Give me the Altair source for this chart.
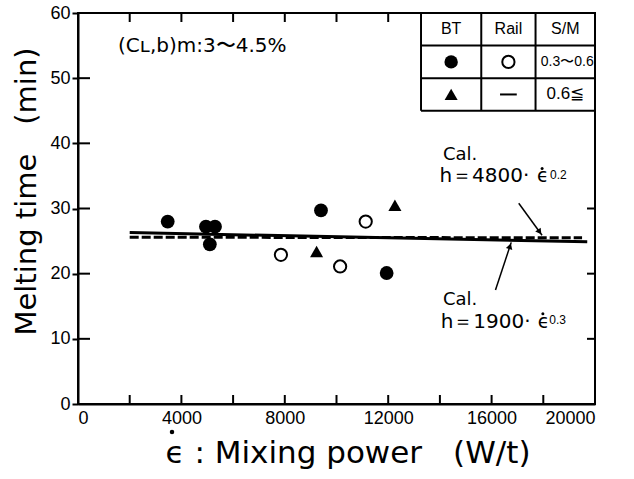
import math
import altair as alt
import pandas as pd

# ---------------- data ----------------
bt_circle_x = [3470, 4950, 5300, 5100, 9400, 11940]
bt_circle_y = [28.0, 27.2, 27.2, 24.5, 29.7, 20.1]
rail_circle_x = [7850, 10140, 11130]
rail_circle_y = [22.9, 21.1, 28.0]
bt_tri_x = [9230, 12260]
bt_tri_y = [23.4, 30.5]

solid_x = [2000, 19700]
solid_y = [26.3, 24.9]
dash_x = [2000, 19500]
dash_y = [25.6, 25.5]

x_label_vals = [0, 4000, 8000, 12000, 16000, 20000]
y_label_vals = [0, 10, 20, 30, 40, 50, 60]
x_minor = [2000, 4000, 6000, 8000, 10000, 12000, 14000, 16000, 18000]
x_top_minor = [2000, 4000, 6000, 8000, 10000, 12000]
y_left_minor = [10, 20, 30, 40, 50]
y_right_minor = [10, 20, 30]

# legend table grid (data units)
tbl_cols = [13270, 15600, 17700, 20000]
tbl_rows = [45, 50, 55, 60]
tbl_head = ["BT", "Rail", "S/M"]
tbl_sm = ["0.3〜0.6", "0.6≦"]

# annotation texts
cond_text = "(Cʟ,b)m:3〜4.5%"
cal_x = [14120, 14120]
cal_y = [38.2, 15.9]
eq_text = ["h＝4800·", "h＝1900·"]
eq_x = [13980, 14030]
eq_y = [34.0, 11.7]
eps_x = [17760, 17790]
sup_text = ["0.2", "0.3"]
sup_x = [18260, 18230]
sup_y = [35.2, 12.9]

arr_x1 = [17050, 16150]
arr_y1 = [30.8, 17.5]
arr_x2 = [17950, 16760]
arr_y2 = [25.9, 24.8]

W, H = 517, 391
XMAX, YMAX = 20000, 60
XPX, YPX = W / XMAX, H / YMAX

xs = alt.Scale(domain=[0, XMAX], nice=False, zero=False)
ys = alt.Scale(domain=[0, YMAX], nice=False, zero=False)
FONT = "Liberation Sans"
TFONT = "DejaVu Sans"

x_axis = alt.Axis(values=x_label_vals, ticks=False, grid=False, labelFont=FONT,
                  labelFontSize=18, labelColor="black", labelPadding=5, format="d",
                  domainColor="black", domainWidth=2,
                  title="ϵ : Mixing power\u2003(W/t)", titleFont=TFONT, titleFontSize=31,
                  titleFontWeight="normal", titleColor="black", titleAlign="left",
                  titleAnchor="start", titleX=87, titleY=58, titleBaseline="alphabetic")
y_axis = alt.Axis(values=y_label_vals, ticks=True, tickSize=6, tickWidth=2, tickColor="black",
                  grid=False, labelFont=FONT, labelFontSize=18, labelColor="black",
                  labelPadding=2, domainColor="black", domainWidth=2,
                  title="Melting time\u2003(min)", titleFont=TFONT, titleFontSize=29,
                  titleFontWeight="normal", titleColor="black", titlePadding=8,
                  titleY=178)


def X(f="x"):
    return alt.X(f"{f}:Q", scale=xs, axis=x_axis)


def Y(f="y"):
    return alt.Y(f"{f}:Q", scale=ys, axis=y_axis)


filled = alt.Chart(pd.DataFrame({"x": bt_circle_x, "y": bt_circle_y})).mark_point(
    shape="circle", filled=True, color="black", size=190, opacity=1).encode(x=X(), y=Y())
opens = alt.Chart(pd.DataFrame({"x": rail_circle_x, "y": rail_circle_y})).mark_point(
    shape="circle", filled=False, color="black", size=150, strokeWidth=2, opacity=1).encode(x=X(), y=Y())
tris = alt.Chart(pd.DataFrame({"x": bt_tri_x, "y": bt_tri_y})).mark_point(
    shape="triangle-up", filled=True, color="black", size=170, opacity=1).encode(x=X(), y=Y())

solid = alt.Chart(pd.DataFrame({"x": solid_x, "y": solid_y})).mark_line(
    color="black", strokeWidth=3).encode(x=X(), y=Y())
dashed = alt.Chart(pd.DataFrame({"x": dash_x, "y": dash_y})).mark_line(
    color="black", strokeWidth=3, strokeDash=[9, 3]).encode(x=X(), y=Y())

# inner ticks
tick_bottom = alt.Chart(pd.DataFrame({"x": x_minor})).mark_rule(color="black", strokeWidth=2).encode(
    x=X(), y=alt.value(H), y2=alt.value(H - 9))
tick_top = alt.Chart(pd.DataFrame({"x": x_top_minor})).mark_rule(color="black", strokeWidth=2).encode(
    x=X(), y=alt.value(0), y2=alt.value(9))
tick_left = alt.Chart(pd.DataFrame({"y": y_left_minor})).mark_rule(color="black", strokeWidth=2).encode(
    y=Y(), x=alt.value(0), x2=alt.value(12))
tick_right = alt.Chart(pd.DataFrame({"y": y_right_minor})).mark_rule(color="black", strokeWidth=2).encode(
    y=Y(), x=alt.value(W), x2=alt.value(W - 8))

# dot over epsilon in x title
title_dot = alt.Chart(pd.DataFrame({"k": [0]})).mark_point(
    shape="circle", filled=True, color="black", size=20, opacity=1).encode(
    x=alt.value(94), y=alt.value(H + 28))

# legend table
vlines = alt.Chart(pd.DataFrame({"x": tbl_cols[:3], "y": [tbl_rows[0]] * 3, "y2": [tbl_rows[-1]] * 3})).mark_rule(
    color="black", strokeWidth=2).encode(x=X(), y=Y(), y2="y2:Q")
hlines = alt.Chart(pd.DataFrame({"y": tbl_rows[:3], "x": [tbl_cols[0]] * 3, "x2": [tbl_cols[-1]] * 3})).mark_rule(
    color="black", strokeWidth=2).encode(y=Y(), x=X(), x2="x2:Q")
col_c = [(tbl_cols[i] + tbl_cols[i + 1]) / 2 for i in range(3)]
row_c = [(tbl_rows[i] + tbl_rows[i + 1]) / 2 for i in range(3)]  # bottom, middle, top
head_txt = alt.Chart(pd.DataFrame({"x": col_c, "y": [row_c[2]] * 3, "t": tbl_head})).mark_text(
    font=FONT, fontSize=16, color="black").encode(x=X(), y=Y(), text="t:N")
sm1 = alt.Chart(pd.DataFrame({"x": [col_c[2]], "y": [row_c[1]], "t": [tbl_sm[0]]})).mark_text(
    font=FONT, fontSize=14, color="black", dx=2).encode(x=X(), y=Y(), text="t:N")
sm2 = alt.Chart(pd.DataFrame({"x": [col_c[2]], "y": [row_c[0]], "t": [tbl_sm[1]]})).mark_text(
    font=FONT, fontSize=17, color="black").encode(x=X(), y=Y(), text="t:N")
leg_fc = alt.Chart(pd.DataFrame({"x": [col_c[0]], "y": [row_c[1]]})).mark_point(
    shape="circle", filled=True, color="black", size=180, opacity=1).encode(x=X(), y=Y())
leg_oc = alt.Chart(pd.DataFrame({"x": [col_c[1]], "y": [row_c[1]]})).mark_point(
    shape="circle", filled=False, color="black", size=150, strokeWidth=2, opacity=1).encode(x=X(), y=Y())
leg_tr = alt.Chart(pd.DataFrame({"x": [col_c[0]], "y": [row_c[0]]})).mark_point(
    shape="triangle-up", filled=True, color="black", size=170, opacity=1).encode(x=X(), y=Y())
leg_dash = alt.Chart(pd.DataFrame({"x": [col_c[1]], "y": [row_c[0]]})).mark_point(
    shape="stroke", color="black", size=280, strokeWidth=2, opacity=1).encode(x=X(), y=Y())

# annotations
cond = alt.Chart(pd.DataFrame({"x": [1550], "y": [54.9], "t": [cond_text]})).mark_text(
    font=TFONT, fontSize=20, color="black", align="left").encode(x=X(), y=Y(), text="t:N")

cal = alt.Chart(pd.DataFrame({"x": cal_x, "y": cal_y, "t": ["Cal.", "Cal."]})).mark_text(
    font=TFONT, fontSize=18, color="black", align="left").encode(x=X(), y=Y(), text="t:N")
eq = alt.Chart(pd.DataFrame({"x": eq_x, "y": eq_y, "t": eq_text})).mark_text(
    font=TFONT, fontSize=20, color="black", align="left", baseline="alphabetic").encode(
    x=X(), y=Y(), text="t:N")
eps = alt.Chart(pd.DataFrame({"x": eps_x, "y": eq_y, "t": ["ϵ", "ϵ"]})).mark_text(
    font=TFONT, fontSize=19, color="black", align="left", baseline="alphabetic").encode(
    x=X(), y=Y(), text="t:N")
dot_x = [e + 5.0 / XPX for e in eps_x]
dot_y = [b + 14.0 / YPX for b in eq_y]
eps_dot = alt.Chart(pd.DataFrame({"x": dot_x, "y": dot_y})).mark_point(
    shape="circle", filled=True, color="black", size=9, opacity=1).encode(x=X(), y=Y())
sup = alt.Chart(pd.DataFrame({"x": sup_x, "y": sup_y, "t": sup_text})).mark_text(
    font=FONT, fontSize=12, color="black", align="left").encode(x=X(), y=Y(), text="t:N")

arrows = alt.Chart(pd.DataFrame({"x": arr_x1, "y": arr_y1, "x2": arr_x2, "y2": arr_y2})).mark_rule(
    color="black", strokeWidth=1.5).encode(x=X(), y=Y(), x2="x2:Q", y2="y2:Q")
heads = []
for a, b, c, d in zip(arr_x1, arr_y1, arr_x2, arr_y2):
    dx = (c - a) * XPX
    dy = -(d - b) * YPX
    L = math.hypot(dx, dy)
    ang = math.degrees(math.atan2(dx, -dy)) % 360
    back = 4.0
    hx = c - (dx / L) * back / XPX
    hy = d + (dy / L) * back / YPX
    heads.append({"x": hx, "y": hy, "a": ang})
arrow_heads = alt.Chart(pd.DataFrame(heads)).mark_point(
    shape="triangle-up", filled=True, color="black", size=45, opacity=1).encode(
    x=X(), y=Y(), angle=alt.Angle("a:Q", scale=None))

chart = alt.layer(
    filled, opens, tris, solid, dashed,
    tick_bottom, tick_top, tick_left, tick_right, title_dot,
    vlines, hlines, head_txt, sm1, sm2, leg_fc, leg_oc, leg_tr, leg_dash,
    cond, cal, eq, eps, eps_dot, sup, arrows, arrow_heads,
).properties(
    width=W, height=H,
    autosize=alt.AutoSizeParams(type="none"),
    padding={"left": 78, "top": 13, "right": 39, "bottom": 75},
    background="white",
).configure_view(stroke="black", strokeWidth=2)

chart.save("out.html", embed_options={"renderer": "svg", "actions": False})
